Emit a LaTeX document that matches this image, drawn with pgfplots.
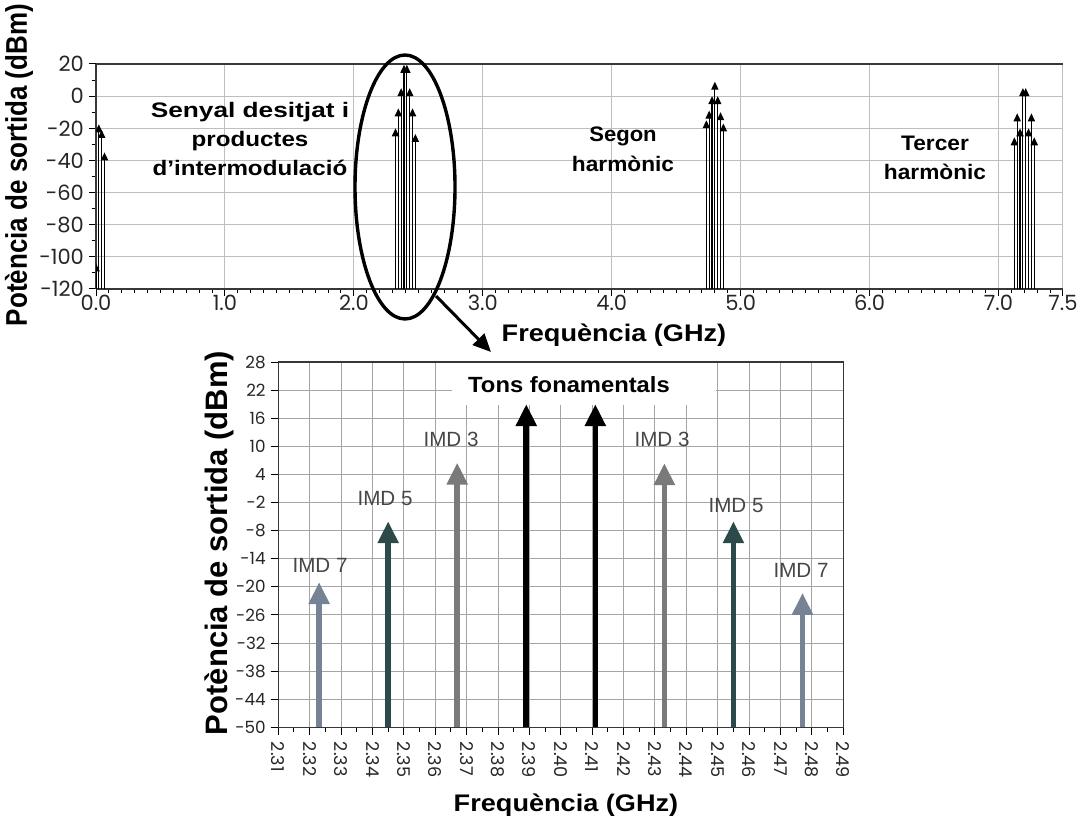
\documentclass[border=0pt]{standalone}
\usepackage{fontspec}
\setmainfont{Liberation Sans}
\newfontfamily\tickfont{Poppins}
\usepackage{graphicx}
\usepackage{pgfplots}
\usepackage{pgfplotstable}
\pgfplotsset{compat=1.18}
\usetikzlibrary{arrows.meta}

\definecolor{imdseven}{RGB}{118,131,148}
\definecolor{imdfive}{RGB}{44,74,74}
\definecolor{imdthree}{RGB}{122,122,122}
\definecolor{gridgray}{RGB}{190,190,190}
\definecolor{gridgraydk}{RGB}{165,165,165}
\definecolor{labelgray}{RGB}{70,70,70}
\definecolor{frame}{RGB}{55,55,55}

\newcommand\wide[2][1.15]{\scalebox{#1}[1]{#2}}
\newcommand\tall[2][1.15]{\scalebox{1}[#1]{#2}}

% Full output spectrum: frequency (GHz), output power (dBm)
\pgfplotstableread{
f      p
0.000  -104
0.022  -17.5
0.044  -21
0.066  -35
2.323  -20
2.345  -7.6
2.367  5
2.389  19.5
2.411  19.5
2.433  5
2.455  -7.6
2.477  -23.5
4.734  -15
4.756  -9
4.778  0
4.800  9
4.822  0
4.844  -10
4.866  -17
7.123  -25.6
7.145  -10.7
7.167  -20
7.189  5
7.211  5
7.233  -20
7.255  -10.7
7.277  -25.6
}\spectrum

% Detail around the two tones
\pgfplotstableread{
f      p
2.389  19
2.411  19
}\fundamentals
\pgfplotstableread{
f      p
2.367  6.5
2.433  6.4
}\imdIII
\pgfplotstableread{
f      p
2.345  -6
2.455  -6
}\imdV
\pgfplotstableread{
f      p
2.323  -19
2.477  -21.3
}\imdVII

\begin{document}
\begin{tikzpicture}
\useasboundingbox (0,0) rectangle (540pt,410pt);

% ---------- full spectrum ----------
\begin{axis}[
  at={(48pt,265.5pt)}, anchor=south west,
  scale only axis, width=483.5pt, height=112.5pt,
  xmin=0, xmax=7.5, ymin=-120, ymax=20,
  xtick={0,1,2,3,4,5,6,7,7.5},
  xticklabels={0.0,1.0,2.0,3.0,4.0,5.0,6.0,7.0,7.5},
  minor xtick={0,0.1,...,7.5},
  ytick={-120,-100,-80,-60,-40,-20,0,20},
  yticklabels={-120,-100,-80,-60,-40,-20,0,20},
  minor ytick={-110,-90,-70,-50,-30,-10,10},
  axis x line*=box, axis y line*=left,
  xtick pos=bottom, ytick pos=left,
  axis line style={frame, line width=0.6pt},
  grid=major, major grid style={gridgray, line width=0.5pt},
  tick align=outside,
  major tick length=3.5pt, minor tick length=2.2pt,
  tick style={black, line width=0.5pt},
  ticklabel style={font=\tickfont\fontsize{10.5}{12}\selectfont, text=black!85},
  xticklabel style={yshift=4pt},
  yticklabel style={xshift=1pt},
]
\addplot[black, line width=0.6pt, -{Triangle[width=3.6pt,length=4pt]},
  quiver={u=0, v=\thisrow{p}+120}]
  table[x=f, y expr=-120] {\spectrum};
\end{axis}

% ---------- detail of the two-tone products ----------
\begin{axis}[
  at={(139.15pt,46.35pt)}, anchor=south west,
  scale only axis, width=282.5pt, height=182.65pt,
  xmin=2.31, xmax=2.49, ymin=-50, ymax=28,
  xtick={2.31,2.32,2.33,2.34,2.35,2.36,2.37,2.38,2.39,2.40,2.41,2.42,2.43,2.44,2.45,2.46,2.47,2.48,2.49},
  xticklabels={2.31,2.32,2.33,2.34,2.35,2.36,2.37,2.38,2.39,2.40,2.41,2.42,2.43,2.44,2.45,2.46,2.47,2.48,2.49},
  minor x tick num=1,
  ytick={-50,-44,-38,-32,-26,-20,-14,-8,-2,4,10,16,22,28},
  yticklabels={-50,-44,-38,-32,-26,-20,-14,-8,-2,4,10,16,22,28},
  xtick pos=bottom, ytick pos=left,
  axis line style={frame, line width=0.6pt},
  grid=major, major grid style={gridgraydk, line width=0.5pt},
  tick align=outside,
  major tick length=3.8pt, minor tick length=2.4pt,
  tick style={black, line width=0.5pt},
  ticklabel style={font=\tickfont\fontsize{8.4}{10}\selectfont, text=black!85},
  xticklabel style={rotate=-90, anchor=west, xshift=0pt, font=\tickfont\fontsize{8.8}{10}\selectfont},
  yticklabel style={xshift=1pt},
]
\fill[white] (axis cs:2.3653,18.8) rectangle (axis cs:2.4494,27.8);
\addplot[imdseven, line width=2.8pt, -{Triangle[width=10pt,length=11pt]},
  quiver={u=0, v=\thisrow{p}+50}] table[x=f, y expr=-50] {\imdVII};
\addplot[imdfive, line width=2.8pt, -{Triangle[width=10pt,length=11pt]},
  quiver={u=0, v=\thisrow{p}+50}] table[x=f, y expr=-50] {\imdV};
\addplot[imdthree, line width=2.8pt, -{Triangle[width=10pt,length=11pt]},
  quiver={u=0, v=\thisrow{p}+50}] table[x=f, y expr=-50] {\imdIII};
\addplot[black, line width=2.8pt, -{Triangle[width=10pt,length=11pt]},
  quiver={u=0, v=\thisrow{p}+50}] table[x=f, y expr=-50] {\fundamentals};
\end{axis}

% ---------- annotations (pixel-style coordinates, origin top left) ----------
\begin{scope}[x=0.5pt, y=-0.5pt, shift={(0,410pt)}]
  \def\ann{\bfseries\fontsize{10.5}{12}\selectfont}
  \node[anchor=base, font=\ann] at (250,118) {\wide[1.25]{Senyal desitjat i}};
  \node[anchor=base, font=\ann] at (250,147) {\wide{productes}};
  \node[anchor=base, font=\ann] at (250,176) {\wide{d’intermodulació}};
  \node[anchor=base, font=\ann] at (623,142) {\wide[1.05]{Segon}};
  \node[anchor=base, font=\ann] at (623,172) {\wide[1.08]{harmònic}};
  \node[anchor=base, font=\ann] at (935,151) {\wide[1.08]{Tercer}};
  \node[anchor=base, font=\ann] at (935,180) {\wide[1.08]{harmònic}};

  \draw[line width=1.7pt] (405,187) ellipse [x radius=25pt, y radius=66pt];
  \draw[line width=1.5pt, -{Triangle[width=8pt,length=9pt]}] (436,296) -- (491,352);

  \node[anchor=base, font=\bfseries\fontsize{12}{14}\selectfont] at (614,342) {\wide[1.13]{Frequència (GHz)}};
  \node[anchor=base, font=\bfseries\fontsize{12}{14}\selectfont] at (566,811) {\wide[1.13]{Frequència (GHz)}};
  \node[rotate=90, font=\bfseries\fontsize{13}{15}\selectfont] at (19,165) {\tall{Potència de sortida (dBm)}};
  \node[rotate=90, font=\bfseries\fontsize{15.5}{18}\selectfont] at (219,543) {\tall[1.0]{Potència de sortida (dBm)}};

  \node[anchor=base, font=\bfseries\fontsize{11}{13}\selectfont] at (569,392) {\wide[1.08]{Tons fonamentals}};

  \def\imd{\fontsize{10.3}{12}\selectfont}
  \node[anchor=base, font=\imd, text=labelgray] at (451,446) {IMD 3};
  \node[anchor=base, font=\imd, text=labelgray] at (385,505) {IMD 5};
  \node[anchor=base, font=\imd, text=labelgray] at (320,572) {IMD 7};
  \node[anchor=base, font=\imd, text=labelgray] at (662,446) {IMD 3};
  \node[anchor=base, font=\imd, text=labelgray] at (736,512) {IMD 5};
  \node[anchor=base, font=\imd, text=labelgray] at (801,577) {IMD 7};
\end{scope}
\end{tikzpicture}
\end{document}
